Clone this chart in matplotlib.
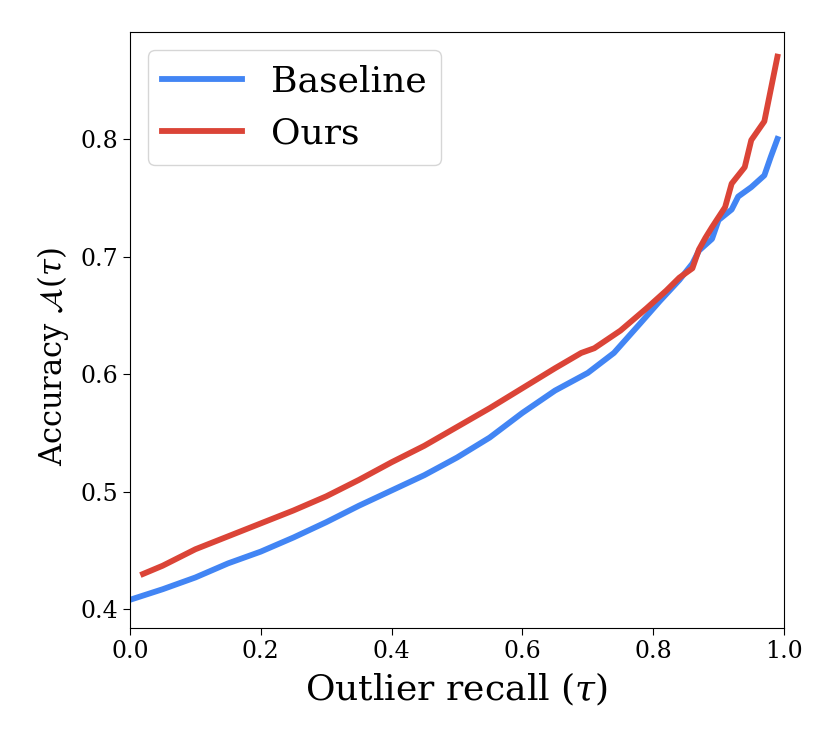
import matplotlib

matplotlib.use("Agg")
import matplotlib.pyplot as plt

# values
base_x = [0.00, 0.05, 0.10, 0.15, 0.20, 0.25, 0.30, 0.35, 0.40, 0.45, 0.50,
          0.55, 0.60, 0.65, 0.70, 0.74, 0.78, 0.81, 0.84, 0.86, 0.87,
          0.89, 0.90, 0.92, 0.93, 0.95, 0.97, 0.98, 0.99]
base_y = [0.408, 0.417, 0.427, 0.439, 0.449, 0.461, 0.474, 0.488, 0.501, 0.514,
          0.529, 0.546, 0.567, 0.586, 0.601, 0.618, 0.643, 0.662, 0.680,
          0.694, 0.705, 0.715, 0.731, 0.740, 0.751, 0.759, 0.769, 0.785, 0.800]

ours_x = [0.02, 0.05, 0.10, 0.15, 0.20, 0.25, 0.30, 0.35, 0.40, 0.45, 0.50,
          0.55, 0.60, 0.65, 0.69, 0.71, 0.75, 0.79, 0.82, 0.84, 0.86,
          0.87, 0.88, 0.89, 0.91, 0.92, 0.94, 0.95, 0.97, 0.99]
ours_y = [0.430, 0.437, 0.451, 0.462, 0.473, 0.484, 0.496, 0.510, 0.525, 0.539,
          0.555, 0.571, 0.588, 0.605, 0.618, 0.622, 0.637, 0.656, 0.671,
          0.682, 0.690, 0.706, 0.716, 0.725, 0.742, 0.762, 0.776, 0.799, 0.815,
          0.870]

plt.rcParams["font.family"] = "DejaVu Serif"
plt.rcParams["mathtext.fontset"] = "dejavuserif"

fig = plt.figure(figsize=(8.31, 7.42), dpi=100)
ax = fig.add_axes([0.1564, 0.1536, 0.787, 0.8033])

ax.plot(base_x, base_y, color="#4285F4", lw=4.2, label="Baseline")
ax.plot(ours_x, ours_y, color="#DB4437", lw=4.2, label="Ours")

ax.set_xlim(0.0, 1.0)
ax.set_ylim(0.384, 0.891)
ax.set_xticks([0.0, 0.2, 0.4, 0.6, 0.8, 1.0])
ax.set_yticks([0.4, 0.5, 0.6, 0.7, 0.8])
ax.tick_params(labelsize=17, length=5)
ax.set_xlabel(r"Outlier recall ($\tau$)", fontsize=26, labelpad=6)
ax.set_ylabel(r"Accuracy $\mathcal{A}(\tau)$", fontsize=22)
ax.yaxis.set_label_coords(-0.09, 0.456)
ax.legend(loc="upper left", fontsize=26, handlelength=2.2)

fig.savefig("out.png", dpi=100)
plt.close(fig)
